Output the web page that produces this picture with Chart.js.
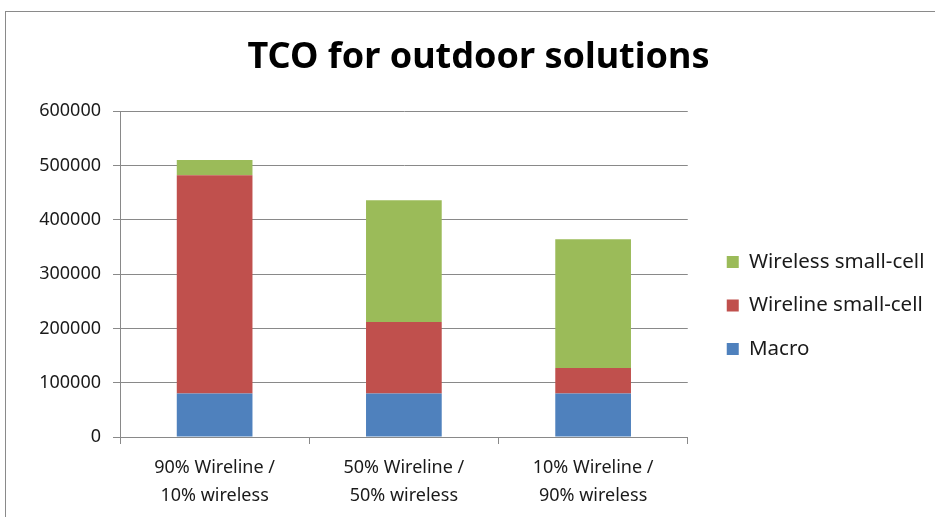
<!DOCTYPE html>
<html>
<head>
<meta charset="utf-8">
<script src="https://cdn.jsdelivr.net/npm/chart.js@4/dist/chart.umd.min.js"></script>
<style>
  html, body { margin: 0; padding: 0; background: #fff; }
  #wrap { position: absolute; left: 0; top: 0; width: 935px; height: 517px; }
  #frame { position: absolute; left: 5px; top: 11px; width: 1000px; height: 600px; border: 1px solid #8a8a8a; box-sizing: border-box; }
  canvas { position: absolute; left: 0; top: 0; }
</style>
</head>
<body>
<div id="wrap">
  <div id="frame"></div>
  <canvas id="c" width="935" height="517"></canvas>
</div>
<script>
const categories = [["90% Wireline /", "10% wireless"], ["50% Wireline /", "50% wireless"], ["10% Wireline /", "90% wireless"]];
const macro = [80000, 80000, 80000];
const wireline = [402000, 132000, 47000];
const wireless = [28000, 224000, 237000];
const yTicks = [0, 100000, 200000, 300000, 400000, 500000, 600000];

const FONT = "'Noto Sans', sans-serif";
const GRID = '#898989';

const boxShift = {
  id: 'boxShift',
  afterLayout(chart) {
    const lg = chart.legend;
    if (lg) { lg.left += 16; lg.right += 40; }
    const tb = chart.titleBlock;
    if (tb) { tb.left += 7; tb.right += 7; }
  }
};

new Chart(document.getElementById('c'), {
  type: 'bar',
  data: {
    labels: categories,
    datasets: [
      { label: 'Macro', data: macro, backgroundColor: '#4F81BD' },
      { label: 'Wireline small-cell', data: wireline, backgroundColor: '#C0504D' },
      { label: 'Wireless small-cell', data: wireless, backgroundColor: '#9BBB59' }
    ]
  },
  plugins: [boxShift],
  options: {
    responsive: false,
    animation: false,
    events: [],
    datasets: { bar: { barPercentage: 0.4, categoryPercentage: 1.0 } },
    layout: { padding: { left: 39, right: 31, top: 0, bottom: 0 } },
    plugins: {
      title: {
        display: true,
        text: 'TCO for outdoor solutions',
        color: '#000',
        font: { family: FONT, size: 36, weight: 'bold' },
        padding: { top: 36, bottom: 32 }
      },
      legend: {
        position: 'right',
        reverse: true,
        title: { display: true, text: ' ', font: { size: 10 }, padding: { top: 0, bottom: 82 } },
        labels: {
          color: '#1a1a1a',
          font: { family: FONT, size: 20.5 },
          boxWidth: 12,
          boxHeight: 12,
          padding: 23
        }
      },
      tooltip: { enabled: false }
    },
    scales: {
      x: {
        stacked: true,
        grid: { display: true, drawOnChartArea: false, drawTicks: true, tickLength: 7, color: GRID, offset: true },
        border: { color: GRID },
        ticks: { color: '#1a1a1a', font: { family: FONT, size: 18, lineHeight: 1.6 }, padding: 9, maxRotation: 0 },
        afterFit: (s) => { s.height = 80; }
      },
      y: {
        stacked: true,
        min: 0, max: 600000,
        afterBuildTicks: (s) => { s.ticks = yTicks.map(v => ({ value: v })); },
        grid: { color: GRID, tickLength: 7 },
        border: { color: GRID },
        ticks: { color: '#1a1a1a', font: { family: FONT, size: 18 }, padding: 12, callback: (v) => String(v) },
        afterFit: (s) => { s.width = 81; }
      }
    }
  }
});
</script>
</body>
</html>
